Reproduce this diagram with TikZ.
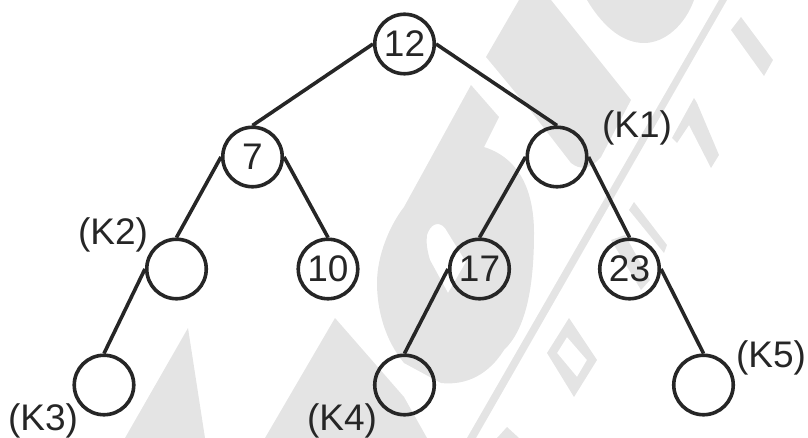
\documentclass[tikz,border=0pt]{standalone}
\usepackage{fontspec}
\setmainfont{Liberation Sans}
\definecolor{ink}{HTML}{262626}
\definecolor{wm}{HTML}{E4E4E4}
\tikzset{
  treenode/.style={circle,draw=ink,line width=3.6pt,minimum size=59.5pt,inner sep=0pt,text=ink,font=\fontsize{37pt}{37pt}\selectfont},
  treelabel/.style={anchor=base,inner sep=0pt,text=ink,font=\fontsize{37pt}{37pt}\selectfont},
  edge/.style={draw=ink,line width=3.6pt},
  mark shape/.style={fill=wm,draw=none}
}
\begin{document}
\begin{tikzpicture}[x=1pt,y=-1pt]
\useasboundingbox (0,0) rectangle (808,438);
% faint background shapes
\fill[mark shape] (188,328) -- (125,438) -- (205,438) -- cycle;
\fill[mark shape] (335,318) -- (265,438) -- (427,438) -- (404,397) -- cycle;
\fill[mark shape,even odd rule] (471,85) -- (499,117) -- (484,147)
   .. controls (525,160) and (534,200) .. (534,233)
   .. controls (534,290) and (525,330) .. (504,350)
   .. controls (485,380) and (460,385) .. (441,383)
   -- (404,363) .. controls (385,340) and (377,310) .. (377,283)
   .. controls (377,255) and (390,225) .. (404,207) -- cycle
   (427,235) .. controls (430,225) and (438,220) .. (445,228) -- (466,262) -- (448,293) -- (430,260) .. controls (427,250) and (426,242) .. (427,235) -- cycle;
\fill[mark shape] (486,57) -- (519,0) -- (551,0) -- (631,100) -- (601,157)
   .. controls (590,170) and (580,170) .. (571,163) -- (530,110) -- cycle;
\fill[mark shape] (587,0) .. controls (605,30) and (625,43) .. (644,43) .. controls (665,43) and (685,25) .. (694,0) -- cycle;
\fill[mark shape] (719,0) -- (727,0) -- (476,438) -- (467,438) -- cycle;
\fill[mark shape] (741,17) -- (731,30) -- (764,76) -- (773,60) -- cycle;
\fill[mark shape] (694,98) -- (672,138) -- (677,143) -- (689,125) -- (711,168) -- (719,155) -- (697,103) -- cycle;
\fill[mark shape] (634,202) -- (629,210) -- (664,253) -- (667,245) -- cycle;
\fill[mark shape] (611,240) -- (641,290) -- (650,280) -- (625,235) -- cycle;
\fill[mark shape,even odd rule] (569,318) -- (547,353) -- (574,397) -- (597,360) -- cycle
   (567,337) -- (557,353) -- (577,377) -- (587,360) -- cycle;
\fill[mark shape] (507,427) -- (497,438) -- (519,438) -- cycle;
% tree
\node[treenode] (n12) at (404.5,44) {12};
\node[treenode] (n7) at (252.5,157) {7};
\node[treenode] (k1) at (557,157) {};
\node[treenode] (k2) at (176.5,269) {};
\node[treenode] (n10) at (328,269) {10};
\node[treenode] (n17) at (479.5,269) {17};
\node[treenode] (n23) at (629.5,269) {23};
\node[treenode] (k3) at (104,385) {};
\node[treenode] (k4) at (404.5,385) {};
\node[treenode] (k5) at (703.5,385) {};
\draw[edge] (n12.west) -- (n7.north);
\draw[edge] (n12.east) -- (k1.north);
\draw[edge] (n7.west) -- (k2.north);
\draw[edge] (n7.east) -- (n10.north);
\draw[edge] (k1.west) -- (n17.north);
\draw[edge] (k1.east) -- (n23.north);
\draw[edge] (k2.west) -- (k3.north);
\draw[edge] (n17.west) -- (k4.north);
\draw[edge] (n23.east) -- (k5.north);
\node[treelabel] (l1) at (637,138) {(K1)};
\node[treelabel] (l2) at (113,245) {(K2)};
\node[treelabel] (l3) at (43,430) {(K3)};
\node[treelabel] (l4) at (342,430) {(K4)};
\node[treelabel] (l5) at (771,367) {(K5)};
\end{tikzpicture}
\end{document}
